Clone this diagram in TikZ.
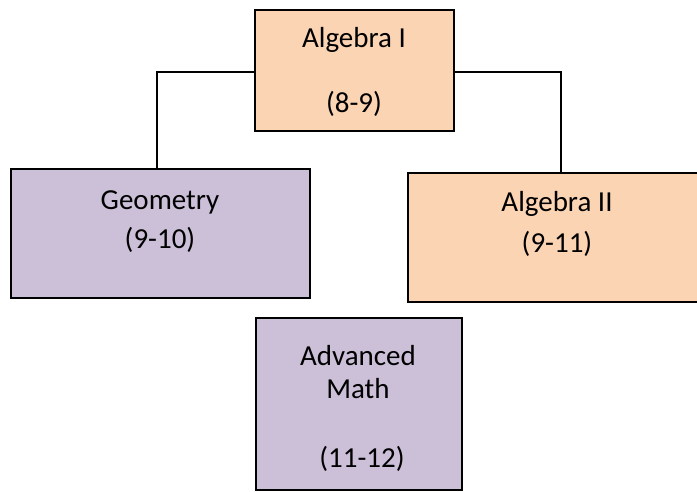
\documentclass[tikz,border=0pt]{standalone}
\usepackage{fontspec}
\setmainfont{Carlito}
\definecolor{peach}{HTML}{FBD4B4}
\definecolor{lavender}{HTML}{CCC0D9}
\tikzset{
  box/.style={draw=black, line width=1.5pt},
  lbl/.style={anchor=base, inner sep=0pt, font=\fontsize{29}{34}\selectfont, text=black},
  conn/.style={draw=black, line width=1.1pt}
}
\begin{document}
\begin{tikzpicture}[x=1pt,y=-1pt]
\clip (0,0) rectangle (697,492);
\fill[white] (0,0) rectangle (697,492);
% boxes
\path[box, fill=peach] (255,10) rectangle (454,131);
\coordinate (a1w) at (255,72);
\coordinate (a1e) at (454,72);
\path[box, fill=lavender] (11,169) rectangle (310,298);
\coordinate (geon) at (157,169);
\path[box, fill=peach] (408,173) rectangle (710,302);
\coordinate (a2n) at (561,173);
\path[box, fill=lavender] (256,318) rectangle (462,490);
% connectors
\draw[conn] (a1w) -| (geon);
\draw[conn] (a1e) -| (a2n);
% labels
\node[lbl] (t1) at (354,48) {Algebra I};
\node[lbl] (t2) at (354,113) {(8-9)};
\node[lbl] (t3) at (160,210) {Geometry};
\node[lbl] (t4) at (160,248) {(9-10)};
\node[lbl] (t5) at (557,212) {Algebra II};
\node[lbl] (t6) at (557,252) {(9-11)};
\node[lbl] (t7) at (358,365) {Advanced};
\node[lbl] (t8) at (358,398) {Math};
\node[lbl] (t9) at (362,467) {(11-12)};
\end{tikzpicture}
\end{document}
